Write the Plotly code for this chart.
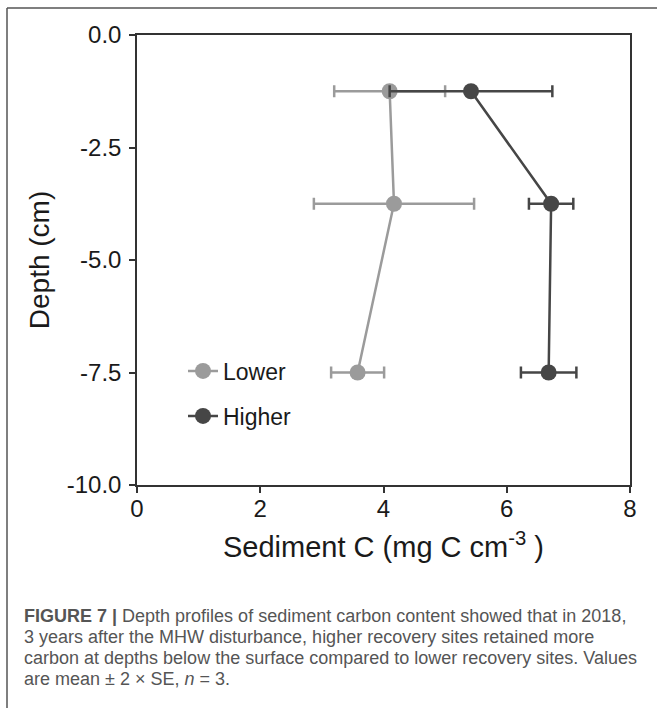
import plotly.graph_objects as go

# ---- data ----
depth = [-1.25, -3.75, -7.5]
lower_mean = [4.10, 4.17, 3.58]
lower_err = [0.90, 1.30, 0.43]
higher_mean = [5.42, 6.72, 6.68]
higher_err = [1.32, 0.36, 0.45]
x_ticks = [0, 2, 4, 6, 8]
y_ticks = [0, -2.5, -5, -7.5, -10]
y_ticklabels = ["0.0", "-2.5", "-5.0", "-7.5", "-10.0"]
caption_lines = [
    "<b>FIGURE 7 |</b> Depth profiles of sediment carbon content showed that in 2018,",
    "3 years after the MHW disturbance, higher recovery sites retained more",
    "carbon at depths below the surface compared to lower recovery sites. Values",
    "are mean \u00b1 2 \u00d7 SE, <i>n</i> = 3.",
]

LOW_C = "#9b9b9b"
HIGH_C = "#464646"
TXT_C = "#1a1a1a"
FONT = "Liberation Sans, Arial, sans-serif"

W, H = 657, 708
L, R, T, B = 137, 630, 35, 485

def px_x(p):
    return (p - L) / (R - L)

def px_y(p):
    return (B - p) / (B - T)

fig = go.Figure()
fig.add_trace(go.Scatter(
    x=lower_mean, y=depth, name="Lower", mode="lines+markers",
    line=dict(color=LOW_C, width=2.5),
    marker=dict(color=LOW_C, size=16),
    error_x=dict(type="data", array=lower_err, color=LOW_C, thickness=2.5, width=6),
    legend="legend",
))
fig.add_trace(go.Scatter(
    x=higher_mean, y=depth, name="Higher", mode="lines+markers",
    line=dict(color=HIGH_C, width=2.5),
    marker=dict(color=HIGH_C, size=16),
    error_x=dict(type="data", array=higher_err, color=HIGH_C, thickness=2.5, width=6),
    legend="legend2",
))

axis_common = dict(
    showgrid=False, zeroline=False, showline=True, linecolor="#333333", linewidth=1.5,
    mirror=True, ticks="outside", ticklen=6, tickwidth=2, tickcolor="#333333",
    tickfont=dict(family=FONT, size=24, color=TXT_C),
)

fig.update_layout(
    width=W, height=H,
    margin=dict(l=L, r=W - R, t=T, b=H - B, pad=0),
    paper_bgcolor="white", plot_bgcolor="white",
    font=dict(family=FONT),
    xaxis=dict(range=[0, 8], tickvals=x_ticks, ticktext=[str(v) for v in x_ticks],
               ticklabelstandoff=-5,
               title=dict(text="Sediment C (mg C cm<sup>-3</sup> )",
                          font=dict(family=FONT, size=29, color=TXT_C), standoff=16),
               **axis_common),
    yaxis=dict(range=[-10, 0], tickvals=y_ticks, ticktext=y_ticklabels,
               ticklabelstandoff=3,
               title=dict(text="Depth (cm)", font=dict(family=FONT, size=28, color=TXT_C),
                          standoff=9),
               **axis_common),
    legend=dict(x=px_x(183), y=px_y(371), xanchor="left", yanchor="middle",
                bgcolor="rgba(0,0,0,0)", font=dict(family=FONT, size=23, color=TXT_C),
                itemwidth=30),
    legend2=dict(x=px_x(183), y=px_y(416), xanchor="left", yanchor="middle",
                 bgcolor="rgba(0,0,0,0)", font=dict(family=FONT, size=23, color=TXT_C),
                 itemwidth=30),
    showlegend=True,
)

# outer figure frame (top and left edges visible)
fig.add_shape(type="line", xref="paper", yref="paper",
              x0=px_x(7), x1=px_x(W + 10), y0=px_y(8), y1=px_y(8),
              line=dict(color="#555555", width=1.5))
fig.add_shape(type="line", xref="paper", yref="paper",
              x0=px_x(7), x1=px_x(7), y0=px_y(8), y1=px_y(H + 10),
              line=dict(color="#555555", width=1.5))

cap_y = [616, 637, 658, 679]
for i, (txt, yy) in enumerate(zip(caption_lines, cap_y)):
    fig.add_annotation(text=txt, xref="paper", yref="paper", x=px_x(22), y=px_y(yy),
                       xanchor="left", yanchor="middle", showarrow=False,
                       font=dict(family=FONT, size=18, color="#555555"))

fig.write_html("out.html", config={"displayModeBar": False},
               post_script="document.body.style.margin='0';")
